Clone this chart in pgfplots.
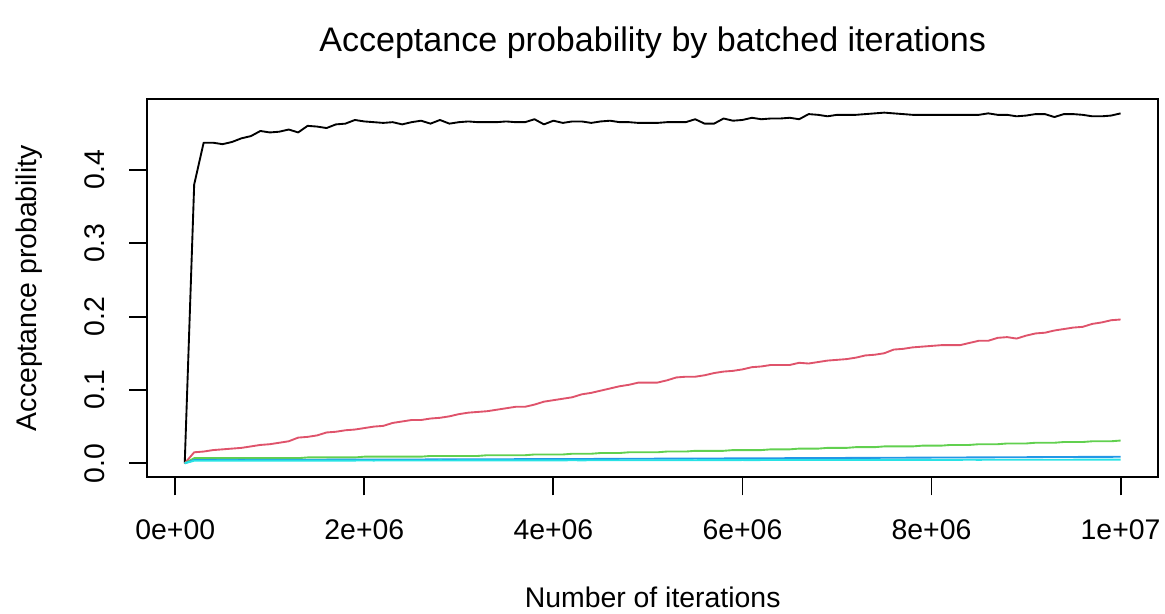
\documentclass[border=0pt]{standalone}
\usepackage{pgfplots}
\usepackage{pgfplotstable}
\pgfplotsset{compat=1.18}
\usepackage{fontspec}
\setmainfont{Liberation Sans}
\definecolor{rred}{HTML}{DF536B}
\definecolor{rgreen}{HTML}{61D04F}
\definecolor{rblue}{HTML}{2297E6}
\definecolor{rcyan}{HTML}{28E2E5}
\newcommand{\basefont}{\fontsize{11.36}{13.6}\selectfont}
\newcommand{\titlefont}{\fontsize{13.63}{16.3}\selectfont}

% acceptance probability per batch of 1e5 iterations
\pgfplotstableread{
x        a      b      c      d       e
100000   0      0      0      0       0
200000   0.380  0.015  0.007  0.0045  0.0035
300000   0.437  0.016  0.007  0.0045  0.0035
400000   0.437  0.018  0.007  0.0046  0.0035
500000   0.435  0.019  0.007  0.0046  0.0036
600000   0.438  0.020  0.007  0.0046  0.0036
700000   0.443  0.021  0.007  0.0047  0.0035
800000   0.446  0.023  0.007  0.0047  0.0036
900000   0.453  0.025  0.007  0.0047  0.0036
1000000  0.451  0.026  0.007  0.0048  0.0036
1100000  0.452  0.028  0.007  0.0048  0.0036
1200000  0.455  0.030  0.007  0.0048  0.0037
1300000  0.451  0.035  0.007  0.0049  0.0036
1400000  0.460  0.036  0.008  0.0049  0.0037
1500000  0.459  0.038  0.008  0.0049  0.0037
1600000  0.457  0.042  0.008  0.0049  0.0037
1700000  0.462  0.043  0.008  0.0050  0.0037
1800000  0.463  0.045  0.008  0.0050  0.0037
1900000  0.468  0.046  0.008  0.0050  0.0037
2000000  0.466  0.048  0.009  0.0050  0.0038
2100000  0.465  0.050  0.009  0.0051  0.0037
2200000  0.464  0.051  0.009  0.0051  0.0038
2300000  0.465  0.055  0.009  0.0051  0.0038
2400000  0.462  0.057  0.009  0.0052  0.0038
2500000  0.465  0.059  0.009  0.0052  0.0038
2600000  0.467  0.059  0.009  0.0052  0.0038
2700000  0.463  0.061  0.010  0.0053  0.0038
2800000  0.468  0.062  0.010  0.0053  0.0039
2900000  0.463  0.064  0.010  0.0053  0.0038
3000000  0.465  0.067  0.010  0.0054  0.0039
3100000  0.466  0.069  0.010  0.0054  0.0039
3200000  0.465  0.070  0.010  0.0054  0.0039
3300000  0.465  0.071  0.011  0.0055  0.0039
3400000  0.465  0.073  0.011  0.0055  0.0039
3500000  0.466  0.075  0.011  0.0055  0.0040
3600000  0.465  0.077  0.011  0.0056  0.0039
3700000  0.465  0.077  0.011  0.0056  0.0040
3800000  0.469  0.080  0.012  0.0056  0.0040
3900000  0.462  0.084  0.012  0.0057  0.0040
4000000  0.467  0.086  0.012  0.0057  0.0040
4100000  0.464  0.088  0.012  0.0058  0.0040
4200000  0.466  0.090  0.013  0.0058  0.0041
4300000  0.466  0.094  0.013  0.0059  0.0040
4400000  0.464  0.096  0.013  0.0059  0.0041
4500000  0.466  0.099  0.014  0.0060  0.0041
4600000  0.467  0.102  0.014  0.0060  0.0041
4700000  0.465  0.105  0.014  0.0061  0.0041
4800000  0.465  0.107  0.015  0.0061  0.0041
4900000  0.464  0.110  0.015  0.0062  0.0042
5000000  0.464  0.110  0.015  0.0062  0.0042
5100000  0.464  0.110  0.015  0.0063  0.0042
5200000  0.465  0.113  0.016  0.0063  0.0042
5300000  0.465  0.117  0.016  0.0064  0.0042
5400000  0.465  0.118  0.016  0.0064  0.0043
5500000  0.469  0.118  0.017  0.0065  0.0042
5600000  0.463  0.120  0.017  0.0065  0.0043
5700000  0.463  0.123  0.017  0.0066  0.0043
5800000  0.470  0.125  0.017  0.0066  0.0043
5900000  0.467  0.126  0.018  0.0067  0.0043
6000000  0.468  0.128  0.018  0.0067  0.0044
6100000  0.471  0.131  0.018  0.0068  0.0043
6200000  0.469  0.132  0.018  0.0068  0.0044
6300000  0.470  0.134  0.019  0.0069  0.0044
6400000  0.470  0.134  0.019  0.0069  0.0044
6500000  0.471  0.134  0.019  0.0070  0.0044
6600000  0.469  0.137  0.020  0.0070  0.0045
6700000  0.476  0.136  0.020  0.0071  0.0044
6800000  0.475  0.138  0.020  0.0071  0.0045
6900000  0.473  0.140  0.021  0.0072  0.0045
7000000  0.475  0.141  0.021  0.0072  0.0045
7100000  0.475  0.142  0.021  0.0073  0.0045
7200000  0.475  0.144  0.022  0.0073  0.0046
7300000  0.476  0.147  0.022  0.0074  0.0045
7400000  0.477  0.148  0.022  0.0074  0.0046
7500000  0.478  0.150  0.023  0.0075  0.0046
7600000  0.477  0.155  0.023  0.0076  0.0046
7700000  0.476  0.156  0.023  0.0076  0.0046
7800000  0.475  0.158  0.023  0.0077  0.0047
7900000  0.475  0.159  0.024  0.0077  0.0046
8000000  0.475  0.160  0.024  0.0078  0.0047
8100000  0.475  0.161  0.024  0.0078  0.0047
8200000  0.475  0.161  0.025  0.0079  0.0047
8300000  0.475  0.161  0.025  0.0079  0.0047
8400000  0.475  0.164  0.025  0.0080  0.0048
8500000  0.475  0.167  0.026  0.0081  0.0047
8600000  0.477  0.167  0.026  0.0080  0.0048
8700000  0.475  0.171  0.026  0.0082  0.0048
8800000  0.475  0.172  0.027  0.0082  0.0048
8900000  0.473  0.170  0.027  0.0083  0.0048
9000000  0.474  0.174  0.027  0.0083  0.0049
9100000  0.476  0.177  0.028  0.0084  0.0048
9200000  0.476  0.178  0.028  0.0085  0.0049
9300000  0.472  0.181  0.028  0.0085  0.0049
9400000  0.476  0.183  0.029  0.0086  0.0049
9500000  0.476  0.185  0.029  0.0086  0.0049
9600000  0.475  0.186  0.029  0.0087  0.0050
9700000  0.473  0.190  0.030  0.0087  0.0049
9800000  0.473  0.192  0.030  0.0088  0.0050
9900000  0.474  0.195  0.030  0.0088  0.0050
10000000 0.477  0.196  0.031  0.0089  0.0050
}\acctable

\begin{document}
\begin{tikzpicture}
\useasboundingbox (0,0) rectangle (466pt,245.6pt);
\begin{axis}[
  at={(58.92pt,54.68pt)}, anchor=south west,
  scale only axis, width=404.28pt, height=151.32pt,
  xmin=-296000, xmax=10396000,
  ymin=-0.0191, ymax=0.4966,
  axis line style={line width=0.75pt},
  every tick/.style={black, line width=0.75pt},
  tick align=outside, tick pos=left,
  major tick length=7.2pt,
  scaled x ticks=false, scaled y ticks=false,
  xtick={0,2000000,4000000,6000000,8000000,10000000},
  xticklabels={0e+00,2e+06,4e+06,6e+06,8e+06,1e+07},
  ytick={0,0.1,0.2,0.3,0.4},
  yticklabels={0.0,0.1,0.2,0.3,0.4},
  xticklabel style={font=\basefont, anchor=base, inner sep=0pt},
  yticklabel style={font=\basefont, rotate=90, anchor=base, inner sep=0pt},
  xticklabel shift=17.6pt,
  yticklabel shift=9.8pt,
  clip=false,
  every axis plot/.style={line width=0.75pt, line join=round},
]
\addplot[black] table[x=x,y=a] {\acctable};
\addplot[rred] table[x=x,y=b] {\acctable};
\addplot[rgreen] table[x=x,y=c] {\acctable};
\addplot[rblue] table[x=x,y=d] {\acctable};
\addplot[rcyan] table[x=x,y=e] {\acctable};
\end{axis}
\node[font=\titlefont, anchor=base, inner sep=0pt] at (261.06pt,225.0pt) {Acceptance probability by batched iterations};
\node[font=\basefont, anchor=base, inner sep=0pt] at (261.06pt,2.4pt) {Number of iterations};
\node[font=\basefont, anchor=base, rotate=90, inner sep=0pt] at (14.6pt,130.34pt) {Acceptance probability};
\end{tikzpicture}
\end{document}
